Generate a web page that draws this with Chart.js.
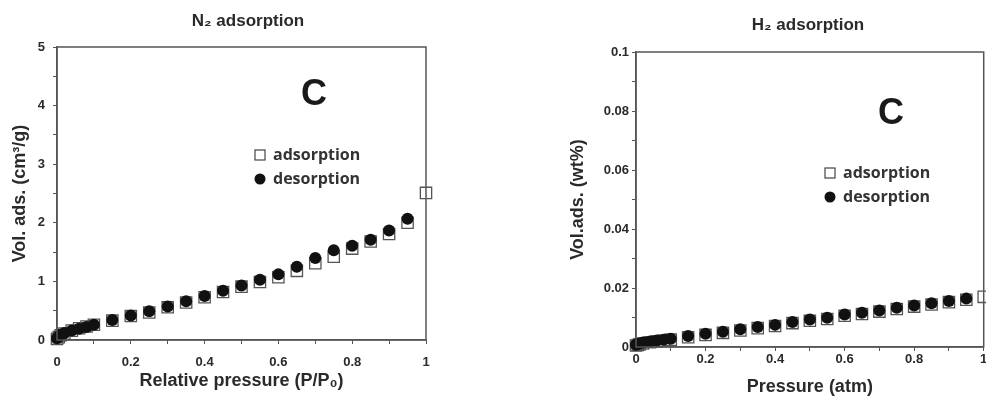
<!DOCTYPE html>
<html>
<head>
<meta charset="utf-8">
<script src="https://cdn.jsdelivr.net/npm/chart.js@4.4.1/dist/chart.umd.min.js"></script>
<style>
  html, body { margin: 0; padding: 0; background: #fff; overflow: hidden; }
  .panel { position: absolute; top: 0; height: 396px; }
  #left { left: 0; width: 470px; }
  /* a little wider than the window: the reference crops the right plot at its right edge */
  #right { left: 540px; width: 453px; }
</style>
</head>
<body>
<div class="panel" id="left"><canvas id="n2"></canvas></div>
<div class="panel" id="right"><canvas id="h2"></canvas></div>
<script>
// relative pressure points (shared by both isotherms)
const pressure = [0, 0.005, 0.01, 0.02, 0.04, 0.06, 0.08, 0.1, 0.15, 0.2, 0.25, 0.3, 0.35, 0.4,
  0.45, 0.5, 0.55, 0.6, 0.65, 0.7, 0.75, 0.8, 0.85, 0.9, 0.95, 1.0];

// N2 isotherm, cm3/g
const n2Adsorption = [0.02, 0.05, 0.08, 0.11, 0.16, 0.2, 0.23, 0.26, 0.33, 0.41, 0.47, 0.56, 0.64,
  0.73, 0.82, 0.91, 0.99, 1.07, 1.18, 1.31, 1.42, 1.56, 1.68, 1.81, 2.0, 2.51];
const n2Desorption = [0.03, 0.06, 0.09, 0.12, 0.16, 0.19, 0.22, 0.26, 0.34, 0.42, 0.49, 0.57, 0.66,
  0.75, 0.84, 0.93, 1.03, 1.12, 1.25, 1.4, 1.53, 1.61, 1.71, 1.87, 2.07];

// H2 isotherm, wt%
const h2Adsorption = [0.0005, 0.0007, 0.0009, 0.0012, 0.0016, 0.0019, 0.0022, 0.0025, 0.0033, 0.0041,
  0.0048, 0.0056, 0.0064, 0.0071, 0.0081, 0.0089, 0.0095, 0.0106, 0.0112, 0.012, 0.0129, 0.0137,
  0.0144, 0.0152, 0.016, 0.017];
const h2Desorption = [0.0008, 0.001, 0.0012, 0.0015, 0.0019, 0.0022, 0.0025, 0.0028, 0.0037, 0.0045,
  0.0052, 0.006, 0.0068, 0.0075, 0.0085, 0.0093, 0.0099, 0.011, 0.0116, 0.0124, 0.0133, 0.0141,
  0.0148, 0.0156, 0.0164];

const legendLabels = ['adsorption', 'desorption'];

const AXIS_FONT = '"Liberation Sans", Arial, sans-serif';
const TEXT_COLOR = '#2a2a2a';

function toPoints(ys) {
  return ys.map((y, i) => ({ x: pressure[i], y }));
}

// frame, heading, big "C" and the in-plot legend
const decorations = {
  id: 'decorations',
  afterDraw(chart) {
    const o = chart.options.plugins.decorations;
    const { ctx, chartArea: a } = chart;
    ctx.save();
    ctx.strokeStyle = '#555';
    ctx.lineWidth = 1.5;
    ctx.strokeRect(a.left, a.top, a.right - a.left, a.bottom - a.top);

    ctx.fillStyle = TEXT_COLOR;
    ctx.textAlign = 'center';
    ctx.textBaseline = 'middle';
    ctx.font = 'bold 17px ' + AXIS_FONT;
    ctx.fillText(o.heading, o.headingX, o.headingY);

    ctx.font = 'bold 36px ' + AXIS_FONT;
    ctx.fillStyle = '#1a1a1a';
    ctx.fillText('C', o.letterX, o.letterY);

    ctx.textAlign = 'left';
    ctx.font = 'bold 16px "Open Sans", sans-serif';
    ctx.fillStyle = '#333';
    const [sx, sy] = [o.legendX, o.legendY];
    ctx.strokeStyle = '#444';
    ctx.lineWidth = 1.2;
    ctx.strokeRect(sx - 5, sy - 5, 10, 10);
    ctx.fillText(legendLabels[0], sx + 13, sy);
    ctx.fillStyle = '#111';
    ctx.beginPath();
    ctx.arc(sx, sy + 24, 5.5, 0, Math.PI * 2);
    ctx.fill();
    ctx.fillStyle = '#333';
    ctx.fillText(legendLabels[1], sx + 13, sy + 24);
    ctx.restore();
  }
};

function makeChart(canvas, opts) {
  return new Chart(canvas, {
    type: 'scatter',
    data: {
      datasets: [
        {
          label: legendLabels[1],
          data: toPoints(opts.desorption),
          pointStyle: 'circle',
          pointRadius: 6,
          backgroundColor: '#111',
          borderColor: '#111',
          borderWidth: 0,
          clip: false,
          order: 0,
        },
        {
          label: legendLabels[0],
          data: toPoints(opts.adsorption),
          pointStyle: 'rect',
          pointRadius: 8,
          backgroundColor: 'rgba(255,255,255,0)',
          borderColor: '#555',
          borderWidth: 1.3,
          clip: false,
          order: 1,
        },
      ],
    },
    plugins: [decorations],
    options: {
      responsive: true,
      maintainAspectRatio: false,
      animation: false,
      layout: { padding: opts.padding },
      plugins: {
        legend: { display: false },
        tooltip: { enabled: false },
        decorations: opts.deco,
      },
      scales: {
        x: {
          type: 'linear',
          min: 0,
          max: 1,
          afterFit: (s) => { s.height = opts.xHeight; },
          grid: { drawOnChartArea: false, tickLength: 4, color: '#555' },
          border: { color: '#555', width: 1.5 },
          ticks: {
            stepSize: 0.1,
            padding: opts.xTickPad,
            color: TEXT_COLOR,
            font: { family: AXIS_FONT, size: 13, weight: 'bold' },
            callback: (v) => (Math.round(v * 10) % 2 === 0 ? String(parseFloat(v.toFixed(2))) : ''),
          },
          title: {
            display: true,
            text: opts.xTitle,
            color: TEXT_COLOR,
            font: { family: AXIS_FONT, size: 18, weight: 'bold', lineHeight: 1 },
            padding: { top: 0, bottom: opts.xTitlePad },
          },
        },
        y: {
          type: 'linear',
          min: 0,
          max: opts.yMax,
          afterFit: (s) => { s.width = opts.yWidth; },
          grid: { drawOnChartArea: false, tickLength: 4, color: '#555' },
          border: { color: '#555', width: 1.5 },
          ticks: {
            stepSize: opts.yStep,
            padding: opts.yTickPad,
            color: TEXT_COLOR,
            font: { family: AXIS_FONT, size: 13, weight: 'bold' },
            callback: (v) => (Math.round(v / opts.yStep) % 2 === 0 ? String(parseFloat(v.toFixed(3))) : ''),
          },
          title: {
            display: true,
            text: opts.yTitle,
            color: TEXT_COLOR,
            font: { family: AXIS_FONT, size: 18, weight: 'bold', lineHeight: 1 },
            padding: { top: opts.yTitlePad, bottom: 0 },
          },
        },
      },
    },
  });
}

makeChart(document.getElementById('n2'), {
  adsorption: n2Adsorption,
  desorption: n2Desorption,
  yMax: 5,
  yStep: 0.5,
  padding: { top: 47, right: 44, left: 0, bottom: 0 },
  xHeight: 56,
  yWidth: 57,
  xTickPad: 11,
  yTickPad: 8,
  xTitlePad: 6,
  yTitlePad: 11,
  xTitle: 'Relative pressure (P/P\u2080)',
  yTitle: 'Vol. ads. (cm\u00b3/g)',
  deco: { heading: 'N\u2082 adsorption', headingX: 248, headingY: 21, letterX: 314, letterY: 95,
    legendX: 260, legendY: 155 },
});

makeChart(document.getElementById('h2'), {
  adsorption: h2Adsorption,
  desorption: h2Desorption,
  yMax: 0.1,
  yStep: 0.01,
  padding: { top: 52, right: 3, left: 0, bottom: 0 },
  xHeight: 49,
  yWidth: 96,
  xTickPad: 1,
  yTickPad: 3,
  xTitlePad: 0,
  yTitlePad: 29,
  xTitle: 'Pressure (atm)',
  yTitle: 'Vol.ads. (wt%)',
  deco: { heading: 'H\u2082 adsorption', headingX: 268, headingY: 25, letterX: 351, letterY: 114,
    legendX: 290, legendY: 173 },
});
</script>
</body>
</html>
